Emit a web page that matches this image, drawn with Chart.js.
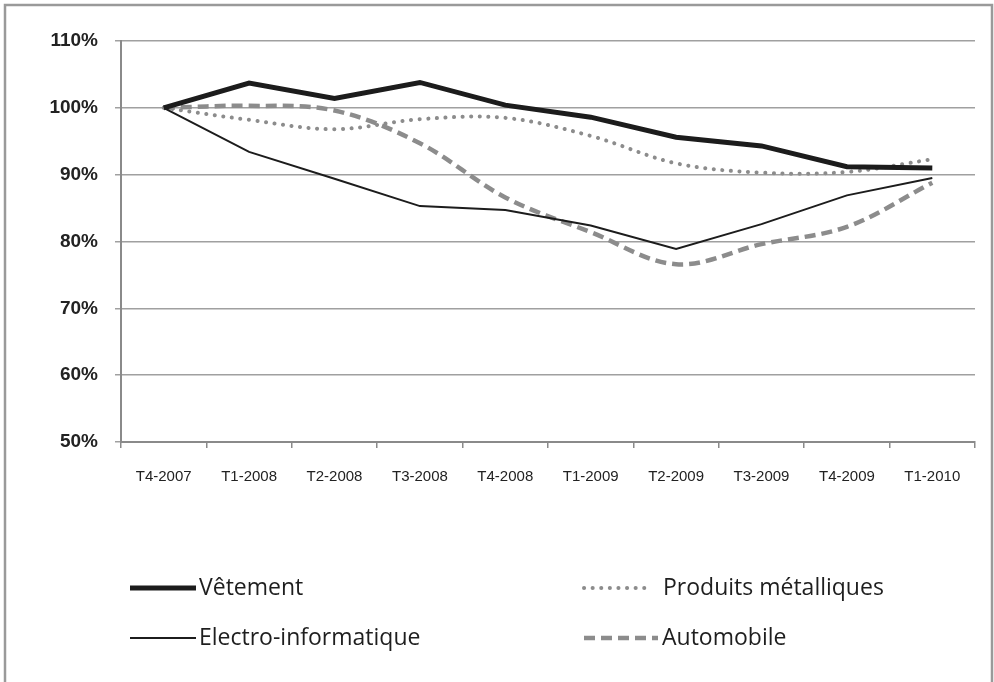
<!DOCTYPE html>
<html>
<head>
<meta charset="utf-8">
<script src="https://cdn.jsdelivr.net/npm/chart.js@4/dist/chart.umd.min.js"></script>
<style>
html,body{margin:0;padding:0;background:#fff;}
#wrap{width:994px;height:682px;position:relative;}
</style>
</head>
<body>
<div id="wrap"><canvas id="c" width="994" height="682"></canvas></div>
<script>
const categories = ['T4-2007','T1-2008','T2-2008','T3-2008','T4-2008','T1-2009','T2-2009','T3-2009','T4-2009','T1-2010'];
const vetement = [100, 103.7, 101.4, 103.8, 100.4, 98.6, 95.6, 94.3, 91.2, 91.0];
const produits = [100, 98.2, 96.8, 98.3, 98.5, 95.8, 91.7, 90.3, 90.4, 92.3];
const electro  = [100, 93.4, 89.4, 85.3, 84.7, 82.4, 78.9, 82.6, 86.9, 89.5];
const automobile = [100, 100.3, 99.6, 94.7, 86.6, 81.4, 76.6, 79.6, 82.2, 88.8];
const yTicks = [50, 60, 70, 80, 90, 100, 110];

const legendPos = [
  {x1:130, x2:196, tx:199, y:588},
  {x1:584, x2:650, tx:663, y:588},
  {x1:130, x2:196, tx:199, y:638},
  {x1:584, x2:658, tx:662, y:638}
];

const frameAndLegend = {
  id:'frameAndLegend',
  beforeDraw(chart){
    const ctx = chart.ctx;
    ctx.save();
    ctx.fillStyle='#fff';
    ctx.fillRect(0,0,chart.width,chart.height);
    ctx.strokeStyle='#9a9a9a';
    ctx.lineWidth=2.5;
    ctx.strokeRect(5,5,987,700);
    ctx.restore();
  },
  afterDraw(chart){
    const ctx = chart.ctx;
    ctx.save();
    chart.data.datasets.forEach((ds,i)=>{
      const p = legendPos[i];
      ctx.beginPath();
      ctx.strokeStyle = ds.borderColor;
      ctx.lineWidth = ds.borderWidth;
      ctx.lineCap = ds.borderCapStyle || 'butt';
      ctx.setLineDash(ds.borderDash || []);
      ctx.moveTo(p.x1,p.y);
      ctx.lineTo(p.x2,p.y);
      ctx.stroke();
      ctx.setLineDash([]);
      ctx.fillStyle='#1e1e1e';
      ctx.font='23px "Open Sans"';
      ctx.textBaseline='middle';
      ctx.textAlign='left';
      ctx.fillText(ds.label,p.tx,p.y);
    });
    ctx.restore();
  }
};

new Chart(document.getElementById('c'),{
  type:'line',
  data:{
    labels:categories,
    datasets:[
      {label:'Vêtement', data:vetement, borderColor:'#1c1c1c', borderWidth:5, pointRadius:0, tension:0, borderCapStyle:'butt'},
      {label:'Produits métalliques', data:produits, borderColor:'#8c8c8c', borderWidth:4, pointRadius:0, tension:0.35, borderDash:[0.1,8.5], borderCapStyle:'round'},
      {label:'Electro-informatique', data:electro, borderColor:'#1c1c1c', borderWidth:2, pointRadius:0, tension:0},
      {label:'Automobile', data:automobile, borderColor:'#8c8c8c', borderWidth:4.5, pointRadius:0, tension:0.35, borderDash:[11,6], borderCapStyle:'butt'}
    ]
  },
  options:{
    responsive:false,
    animation:false,
    devicePixelRatio:1,
    layout:{padding:{left:0,right:19,top:41,bottom:200}},
    plugins:{legend:{display:false},tooltip:{enabled:false}},
    scales:{
      x:{
        offset:true,
        grid:{offset:true,drawOnChartArea:false,drawTicks:true,tickLength:6,color:'#8a8a8a',lineWidth:1.5},
        border:{display:true,color:'#8a8a8a',width:2},
        ticks:{color:'#222',font:{family:'"Liberation Sans"',size:15},padding:20,maxRotation:0,autoSkip:false},
        afterFit(s){s.height=40;}
      },
      y:{
        min:50,max:110,
        afterBuildTicks(s){s.ticks=yTicks.map(v=>({value:v}));},
        grid:{color:'#a0a0a0',lineWidth:1.5,tickLength:6,drawTicks:true},
        border:{display:true,color:'#8a8a8a',width:2},
        ticks:{color:'#222',font:{family:'"Liberation Sans"',size:19,weight:'bold'},padding:17,callback:v=>v+'%'},
        afterFit(s){s.width=121;}
      }
    }
  },
  plugins:[frameAndLegend]
});
</script>
</body>
</html>
